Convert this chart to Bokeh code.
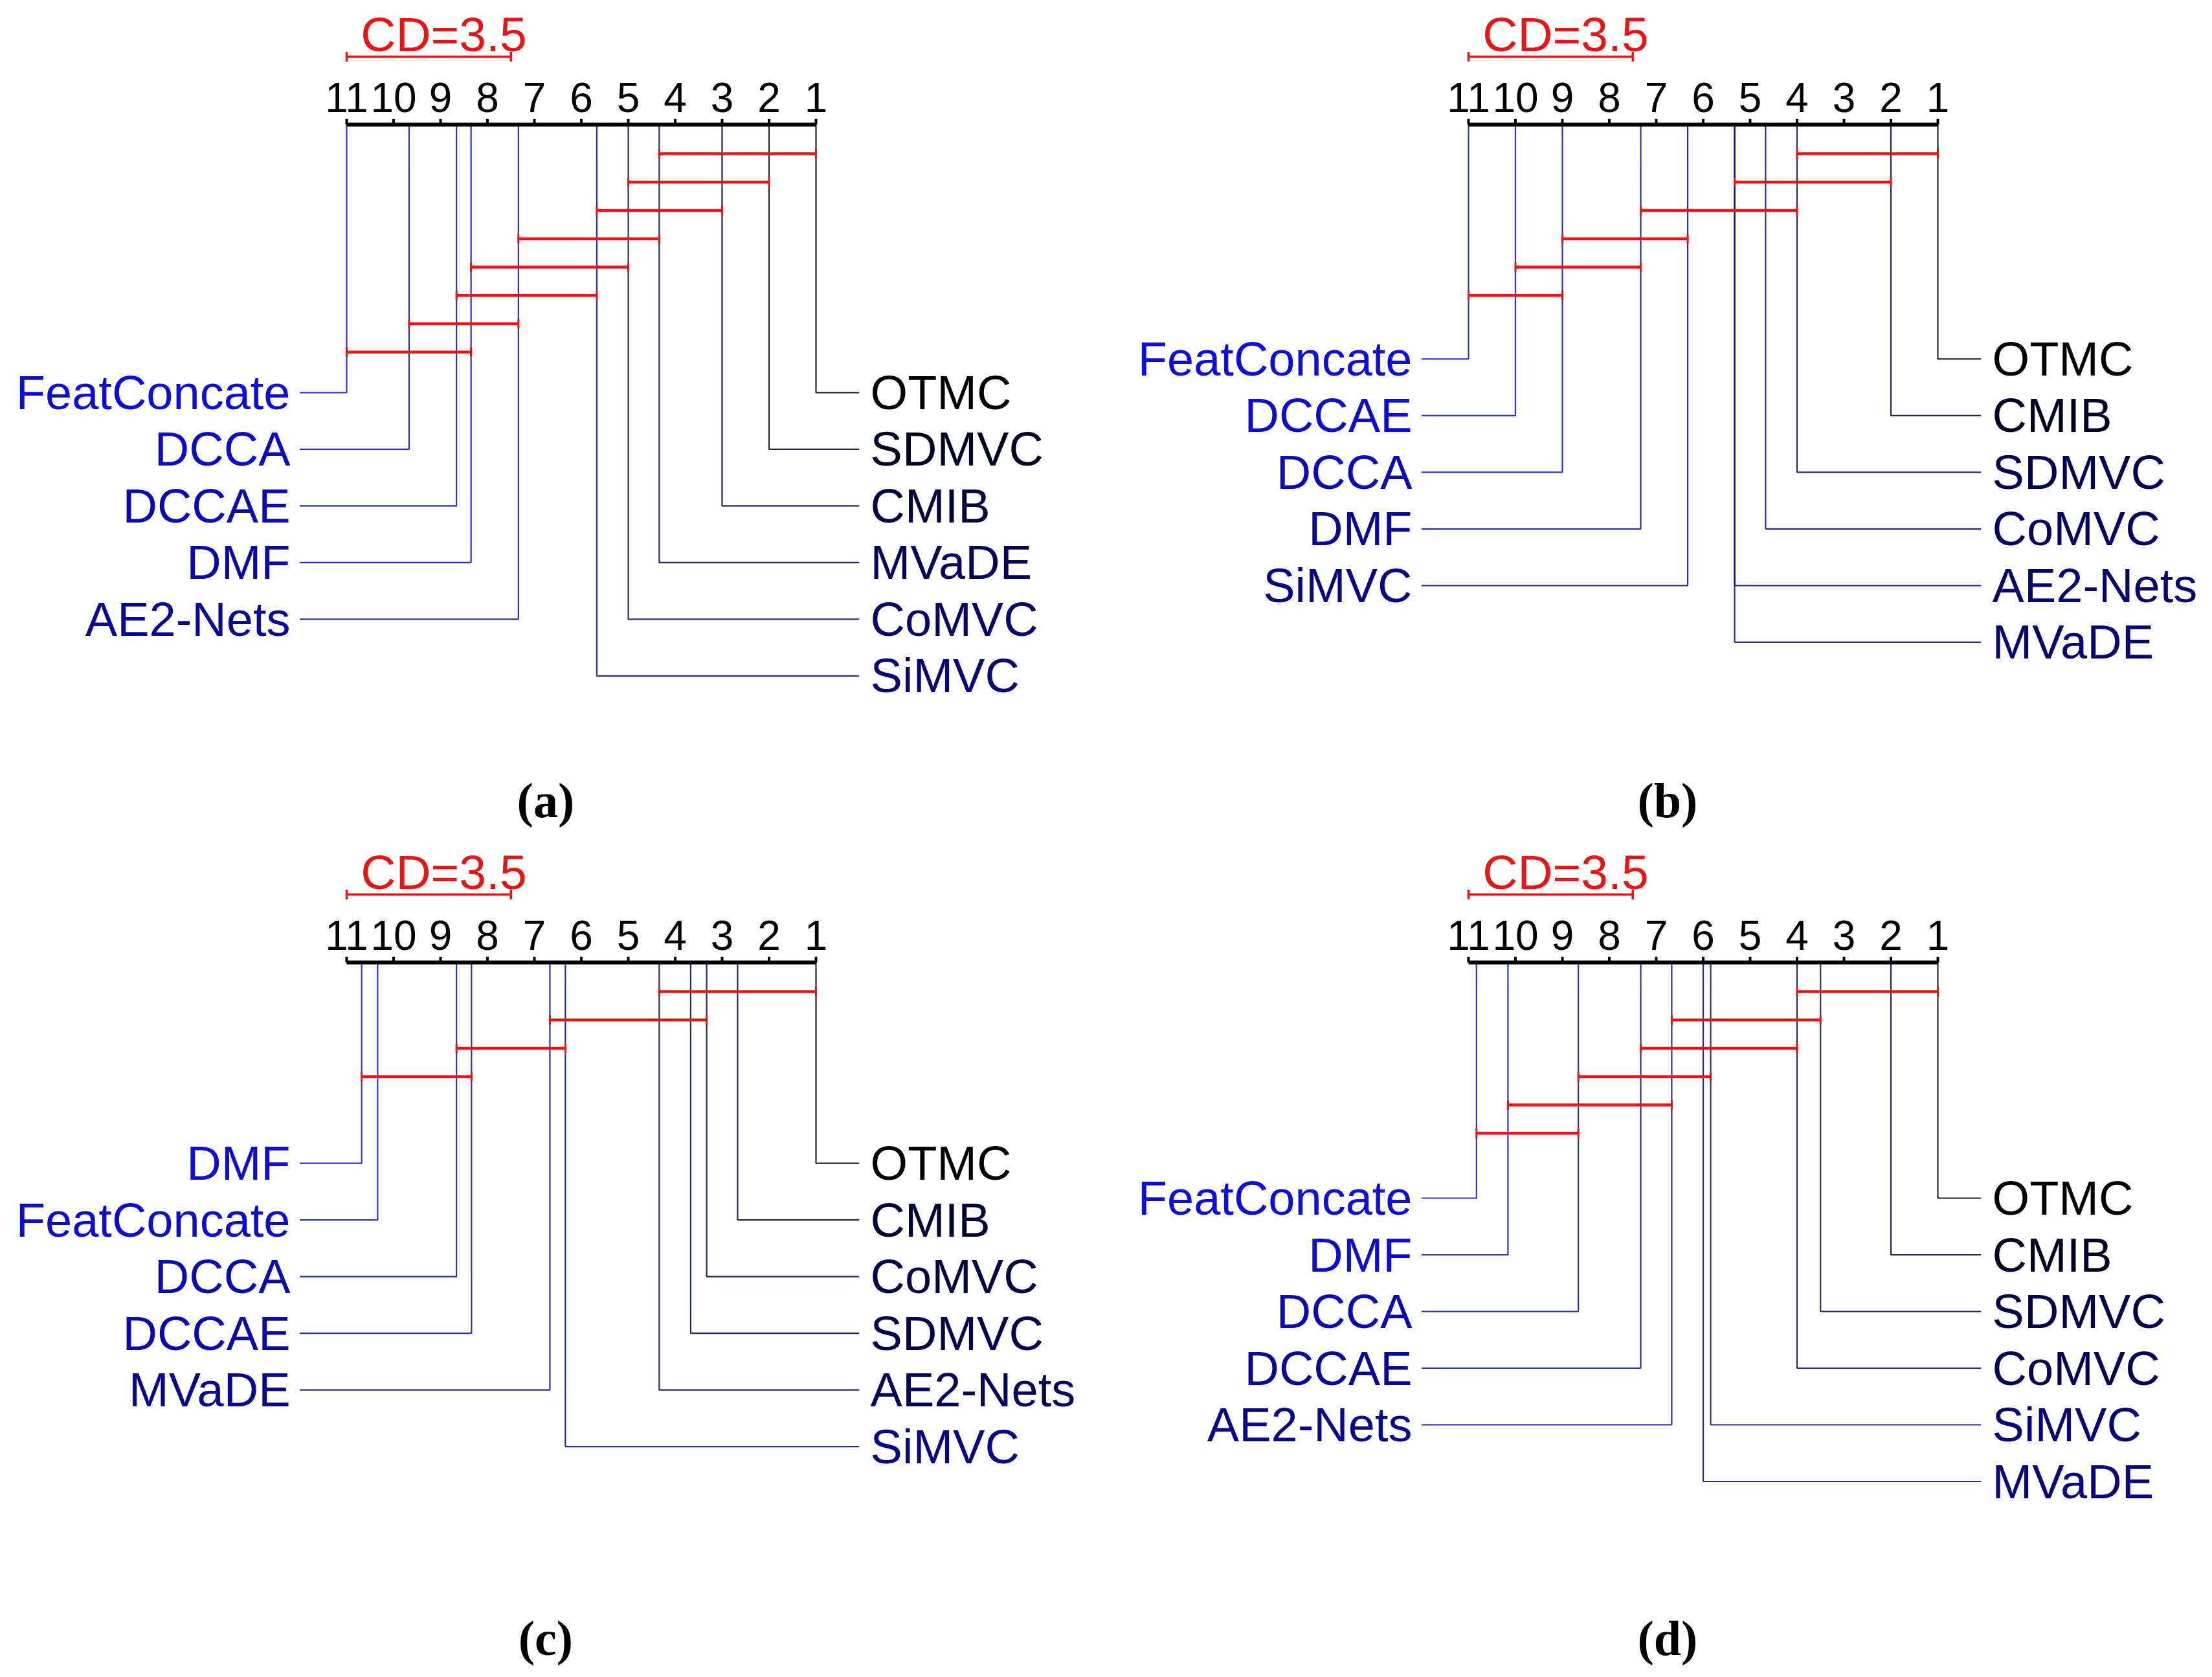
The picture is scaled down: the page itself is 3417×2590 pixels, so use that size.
from bokeh.plotting import figure
from bokeh.models import Range1d
from bokeh.layouts import column, row
from bokeh.embed import file_html
from bokeh.resources import INLINE
from bokeh.core.properties import value

# ---------------- data ----------------
CD = 3.5
tick_ranks = [1, 2, 3, 4, 5, 6, 7, 8, 9, 10, 11]
tick_labels = [str(t) for t in tick_ranks]

# (a)
a_left_names = ["FeatConcate", "DCCA", "DCCAE", "DMF", "AE2-Nets"]
a_left_ranks = [11.0, 9.67, 8.66, 8.35, 7.34]
a_right_names = ["OTMC", "SDMVC", "CMIB", "MVaDE", "CoMVC", "SiMVC"]
a_right_ranks = [1.0, 2.0, 3.0, 4.34, 5.0, 5.67]
a_clique_worst = [4.34, 5.0, 5.67, 7.34, 8.35, 8.66, 9.67, 11.0]
a_clique_best = [1.0, 2.0, 3.0, 4.34, 5.0, 5.67, 7.34, 8.35]

# (b)
b_left_names = ["FeatConcate", "DCCAE", "DCCA", "DMF", "SiMVC"]
b_left_ranks = [11.0, 10.0, 9.0, 7.33, 6.33]
b_right_names = ["OTMC", "CMIB", "SDMVC", "CoMVC", "AE2-Nets", "MVaDE"]
b_right_ranks = [1.0, 2.0, 4.0, 4.67, 5.33, 5.33]
b_clique_worst = [4.0, 5.33, 7.33, 9.0, 10.0, 11.0]
b_clique_best = [1.0, 2.0, 4.0, 6.33, 7.33, 9.0]

# (c)
c_left_names = ["DMF", "FeatConcate", "DCCA", "DCCAE", "MVaDE"]
c_left_ranks = [10.68, 10.34, 8.66, 8.34, 6.67]
c_right_names = ["OTMC", "CMIB", "CoMVC", "SDMVC", "AE2-Nets", "SiMVC"]
c_right_ranks = [1.0, 2.67, 3.33, 3.67, 4.34, 6.34]
c_clique_worst = [4.34, 6.67, 8.66, 10.68]
c_clique_best = [1.0, 3.33, 6.34, 8.34]

# (d)
d_left_names = ["FeatConcate", "DMF", "DCCA", "DCCAE", "AE2-Nets"]
d_left_ranks = [10.83, 10.16, 8.66, 7.33, 6.67]
d_right_names = ["OTMC", "CMIB", "SDMVC", "CoMVC", "SiMVC", "MVaDE"]
d_right_ranks = [1.0, 2.0, 3.5, 4.0, 5.84, 6.0]
d_clique_worst = [4.0, 6.67, 7.33, 8.66, 10.16, 10.83]
d_clique_best = [1.0, 3.5, 4.0, 5.84, 6.67, 8.66]

# ---------------- layout constants ----------------
PX_PER_RANK = 72.5
PX_PER_ROW = 43.75
SANS = "Liberation Sans"
SERIF = "Liberation Serif"
RED = "#e81515"


def rank_color(r):
    t = (r - 1.0) / 10.0
    b = int(round(220 * (t ** 0.8)))
    rg = int(round(14 * t))
    return "#%02x%02x%02x" % (rg, rg, b)


def make_panel(left_names, left_ranks, right_names, right_ranks,
               clq_worst, clq_best, caption,
               fig_left, fig_top, width, height, axis_x, axis_y, label_row0):
    n_max = max(tick_ranks)
    n_min = min(tick_ranks)
    px_axis = axis_x - fig_left
    x_start = n_max + px_axis / PX_PER_RANK
    x_end = n_max - (width - px_axis) / PX_PER_RANK
    y_bottom = (fig_top + height - axis_y) / PX_PER_ROW
    y_top = (fig_top - axis_y) / PX_PER_ROW

    p = figure(width=width, height=height,
               x_range=Range1d(x_start, x_end), y_range=Range1d(y_bottom, y_top),
               output_backend="svg", toolbar_location=None, min_border=0,
               x_axis_type=None, y_axis_type=None)
    p.xgrid.visible = False
    p.ygrid.visible = False
    p.outline_line_color = None
    p.background_fill_color = "white"
    p.border_fill_color = "white"

    # method connector lines
    left_end = n_max + 1.0
    right_end = n_min - 0.92
    for i, (nm, r) in enumerate(zip(left_names, left_ranks)):
        y = label_row0 + 2 * i
        p.line(x=[r, r, left_end], y=[0, y, y], line_color=rank_color(r),
               line_width=2.2, line_alpha=0.85)
    for i, (nm, r) in enumerate(zip(right_names, right_ranks)):
        y = label_row0 + 2 * i
        p.line(x=[r, r, right_end], y=[0, y, y], line_color=rank_color(r),
               line_width=2.2, line_alpha=0.85)

    # axis
    p.segment(x0=[n_max], x1=[n_min], y0=[0], y1=[0], line_color="black",
              line_width=6)
    tick_len = 0.2
    p.segment(x0=tick_ranks, x1=tick_ranks, y0=[0] * len(tick_ranks),
              y1=[-tick_len] * len(tick_ranks), line_color="black", line_width=4)
    p.text(x=tick_ranks, y=[-0.95] * len(tick_ranks), text=tick_labels,
           text_align="center", text_baseline="middle",
           text_font=value(SANS), text_font_size="64px", text_color="black")

    # CD bar
    cd_y = -2.4
    cap = 0.17
    p.segment(x0=[n_max], x1=[n_max - CD], y0=[cd_y], y1=[cd_y],
              line_color=RED, line_width=3.5)
    p.segment(x0=[n_max, n_max - CD], x1=[n_max, n_max - CD],
              y0=[cd_y - cap] * 2, y1=[cd_y + cap] * 2,
              line_color=RED, line_width=3.5)
    p.text(x=[n_max - 0.3], y=[-3.18], text=["CD=%g" % CD],
           text_align="left", text_baseline="middle",
           text_font=value(SANS), text_font_size="75px", text_color=RED)

    # cliques
    ys = [i + 1.03 for i in range(len(clq_worst))]
    p.segment(x0=clq_worst, x1=clq_best, y0=ys, y1=ys,
              line_color=RED, line_width=4.5)
    p.segment(x0=clq_worst + clq_best, x1=clq_worst + clq_best,
              y0=[y - cap for y in ys] * 2, y1=[y + cap for y in ys] * 2,
              line_color=RED, line_width=3)

    # labels
    ly = [label_row0 + 2 * i for i in range(len(left_names))]
    p.text(x=[left_end + 0.2] * len(left_names), y=ly, text=left_names,
           text_align="right", text_baseline="middle",
           text_font=value(SANS), text_font_size="74px",
           text_color=[rank_color(r) for r in left_ranks])
    ry = [label_row0 + 2 * i for i in range(len(right_names))]
    p.text(x=[right_end - 0.24] * len(right_names), y=ry, text=right_names,
           text_align="left", text_baseline="middle",
           text_font=value(SANS), text_font_size="74px",
           text_color=[rank_color(r) for r in right_ranks])

    # caption
    p.text(x=[6.76], y=[23.85], text=[caption], text_align="center",
           text_baseline="middle", text_font=value(SERIF),
           text_font_size="76px", text_font_style="bold", text_color="black")
    return p


pa = make_panel(a_left_names, a_left_ranks, a_right_names, a_right_ranks,
                a_clique_worst, a_clique_best, "(a)",
                0, 0, 1726, 1286, 535, 192, 9.46)
pb = make_panel(b_left_names, b_left_ranks, b_right_names, b_right_ranks,
                b_clique_worst, b_clique_best, "(b)",
                1726, 0, 1674, 1286, 2268, 192, 8.27)
pc = make_panel(c_left_names, c_left_ranks, c_right_names, c_right_ranks,
                c_clique_worst, c_clique_best, "(c)",
                0, 1286, 1726, 1288, 535, 1486, 7.09)
pd = make_panel(d_left_names, d_left_ranks, d_right_names, d_right_ranks,
                d_clique_worst, d_clique_best, "(d)",
                1726, 1286, 1674, 1288, 2268, 1486, 8.32)

layout = column(row(pa, pb), row(pc, pd))
open("out.html", "w").write(file_html(layout, INLINE))
